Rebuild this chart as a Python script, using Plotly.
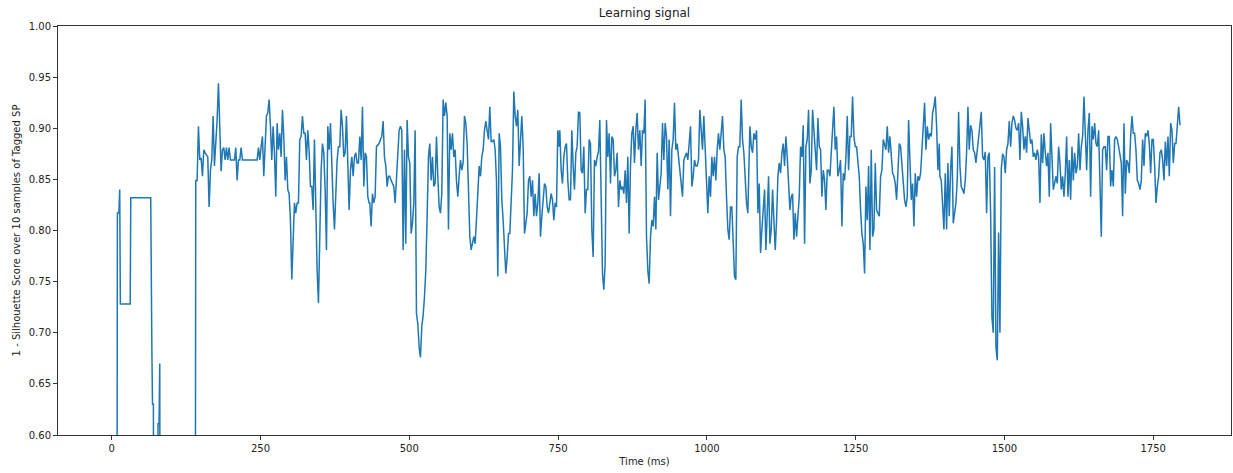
import numpy as np
import plotly.graph_objects as go

# Early part (ms, score); values below the visible range shown as 0.0
EARLY_T = [0, 8, 9.5, 12, 13.4, 14.5, 31, 32, 65.5, 66.5, 67.5, 68.5, 70, 72, 77, 77.8, 79.5, 80.7, 82, 139.5]
EARLY_V = [0.0, 0.0, 0.817, 0.817, 0.840, 0.728, 0.728, 0.832, 0.832, 0.680, 0.680, 0.630, 0.630, 0.0,
           0.0, 0.611, 0.611, 0.670, 0.0, 0.0]

# Segments sampled uniformly between (start, end) ms
SEG_A_SPAN = (141.2, 432.5)
SEG_A = [0.849, 0.849, 0.902, 0.869, 0.871, 0.853, 0.879, 0.876, 0.874, 0.872,
         0.823, 0.859, 0.869, 0.912, 0.863, 0.882, 0.908, 0.944, 0.898, 0.858,
         0.879, 0.881, 0.869, 0.881, 0.869, 0.881, 0.869, 0.869, 0.869, 0.869,
         0.881, 0.849, 0.869, 0.869, 0.881, 0.869, 0.869, 0.869, 0.869, 0.869,
         0.869, 0.869, 0.869, 0.869, 0.869, 0.869, 0.869, 0.881, 0.869, 0.882,
         0.892, 0.853, 0.892, 0.912, 0.915, 0.928, 0.902, 0.869, 0.902, 0.876,
         0.833, 0.905, 0.879, 0.895, 0.872, 0.918, 0.892, 0.849, 0.872, 0.840,
         0.836, 0.810, 0.752, 0.787, 0.827, 0.817, 0.827, 0.827, 0.889, 0.892,
         0.912, 0.895, 0.895, 0.869, 0.898, 0.879, 0.843, 0.843, 0.820, 0.889,
         0.817, 0.761, 0.729, 0.794, 0.859, 0.885, 0.876, 0.840, 0.781, 0.902,
         0.879, 0.905, 0.859, 0.827, 0.801, 0.833, 0.869, 0.882, 0.882, 0.918,
         0.902, 0.872, 0.876, 0.912, 0.866, 0.820, 0.859, 0.872, 0.853, 0.872,
         0.876, 0.866, 0.866, 0.892, 0.869, 0.921, 0.843, 0.876, 0.872, 0.833,
         0.827]

SEG_B_SPAN = (433.6, 751.8)
SEG_B = [0.827, 0.804, 0.836, 0.827, 0.833, 0.882, 0.884, 0.885, 0.889, 0.892,
         0.907, 0.872, 0.863, 0.843, 0.853, 0.853, 0.849, 0.846, 0.843, 0.827,
         0.853, 0.885, 0.898, 0.902, 0.898, 0.781, 0.879, 0.787, 0.908, 0.872,
         0.866, 0.797, 0.807, 0.827, 0.898, 0.719, 0.709, 0.686, 0.676, 0.706,
         0.717, 0.735, 0.761, 0.814, 0.872, 0.885, 0.849, 0.872, 0.843, 0.846,
         0.892, 0.853, 0.823, 0.817, 0.836, 0.928, 0.912, 0.925, 0.912, 0.801,
         0.895, 0.879, 0.895, 0.872, 0.879, 0.849, 0.833, 0.853, 0.869, 0.859,
         0.866, 0.912, 0.905, 0.885, 0.849, 0.794, 0.781, 0.787, 0.794, 0.787,
         0.820, 0.836, 0.863, 0.853, 0.872, 0.879, 0.898, 0.907, 0.898, 0.889,
         0.921, 0.887, 0.887, 0.889, 0.879, 0.849, 0.755, 0.895, 0.882, 0.830,
         0.810, 0.781, 0.758, 0.774, 0.797, 0.797, 0.827, 0.859, 0.936, 0.912,
         0.902, 0.918, 0.863, 0.889, 0.912, 0.882, 0.797, 0.807, 0.817, 0.849,
         0.853, 0.833, 0.849, 0.814, 0.836, 0.814, 0.827, 0.856, 0.794, 0.814,
         0.827, 0.846, 0.843, 0.823, 0.817, 0.827, 0.836, 0.830, 0.810, 0.827,
         0.823, 0.898, 0.882]

SEG_C_SPAN = (752.9, 1071.1)
SEG_C = [0.898, 0.859, 0.846, 0.872, 0.882, 0.885, 0.849, 0.830, 0.830, 0.898,
         0.863, 0.840, 0.876, 0.882, 0.916, 0.915, 0.859, 0.856, 0.882, 0.817,
         0.840, 0.840, 0.889, 0.885, 0.801, 0.774, 0.869, 0.863, 0.872, 0.877,
         0.908, 0.830, 0.758, 0.742, 0.768, 0.908, 0.872, 0.895, 0.846, 0.892,
         0.889, 0.853, 0.859, 0.876, 0.823, 0.849, 0.840, 0.843, 0.836, 0.859,
         0.827, 0.872, 0.797, 0.863, 0.895, 0.902, 0.866, 0.898, 0.915, 0.879,
         0.898, 0.863, 0.898, 0.895, 0.928, 0.794, 0.761, 0.748, 0.794, 0.810,
         0.804, 0.833, 0.801, 0.876, 0.830, 0.843, 0.856, 0.905, 0.869, 0.905,
         0.892, 0.840, 0.889, 0.814, 0.879, 0.889, 0.925, 0.879, 0.885, 0.872,
         0.859, 0.849, 0.833, 0.869, 0.872, 0.876, 0.869, 0.889, 0.902, 0.843,
         0.853, 0.869, 0.863, 0.863, 0.869, 0.918, 0.895, 0.879, 0.912, 0.879,
         0.859, 0.817, 0.853, 0.833, 0.872, 0.853, 0.872, 0.849, 0.879, 0.895,
         0.879, 0.892, 0.912, 0.879, 0.872, 0.833, 0.801, 0.791, 0.823, 0.823,
         0.794, 0.755, 0.752, 0.872, 0.882, 0.882, 0.928, 0.889, 0.876, 0.853,
         0.827, 0.817, 0.879]

SEG_D_SPAN = (1072.3, 1390.5)
SEG_D = [0.902, 0.882, 0.876, 0.895, 0.889, 0.898, 0.817, 0.846, 0.778, 0.801,
         0.817, 0.840, 0.781, 0.820, 0.853, 0.787, 0.801, 0.840, 0.804, 0.781,
         0.810, 0.853, 0.866, 0.856, 0.876, 0.885, 0.863, 0.892, 0.872, 0.849,
         0.820, 0.833, 0.836, 0.791, 0.817, 0.794, 0.820, 0.833, 0.882, 0.872,
         0.903, 0.787, 0.882, 0.889, 0.918, 0.846, 0.859, 0.918, 0.898, 0.879,
         0.859, 0.910, 0.882, 0.879, 0.833, 0.859, 0.849, 0.820, 0.859, 0.859,
         0.853, 0.876, 0.898, 0.921, 0.879, 0.892, 0.853, 0.859, 0.869, 0.804,
         0.856, 0.849, 0.872, 0.912, 0.859, 0.892, 0.892, 0.931, 0.892, 0.882,
         0.882, 0.869, 0.853, 0.820, 0.797, 0.787, 0.758, 0.843, 0.810, 0.863,
         0.781, 0.879, 0.794, 0.801, 0.866, 0.820, 0.817, 0.814, 0.853, 0.859,
         0.889, 0.885, 0.879, 0.902, 0.876, 0.892, 0.872, 0.856, 0.853, 0.846,
         0.830, 0.866, 0.885, 0.882, 0.866, 0.853, 0.830, 0.823, 0.833, 0.908,
         0.859, 0.830, 0.846, 0.804, 0.856, 0.833, 0.853, 0.849, 0.856, 0.879,
         0.902, 0.925, 0.879, 0.902, 0.889, 0.895, 0.892, 0.915, 0.921, 0.931,
         0.902, 0.859, 0.885]

SEG_E_SPAN = (1391.6, 1658.3)
SEG_E = [0.853, 0.849, 0.817, 0.801, 0.856, 0.801, 0.866, 0.814, 0.859, 0.882,
         0.807, 0.820, 0.827, 0.849, 0.916, 0.863, 0.843, 0.840, 0.836, 0.849,
         0.876, 0.921, 0.879, 0.903, 0.898, 0.879, 0.876, 0.866, 0.879, 0.895,
         0.902, 0.916, 0.872, 0.869, 0.877, 0.817, 0.872, 0.876, 0.817, 0.715,
         0.700, 0.862, 0.686, 0.673, 0.798, 0.700, 0.860, 0.875, 0.872, 0.856,
         0.879, 0.885, 0.907, 0.882, 0.905, 0.912, 0.908, 0.900, 0.898, 0.905,
         0.869, 0.916, 0.902, 0.879, 0.892, 0.876, 0.910, 0.895, 0.885, 0.889,
         0.872, 0.876, 0.869, 0.879, 0.872, 0.827, 0.894, 0.866, 0.895, 0.876,
         0.863, 0.876, 0.833, 0.905, 0.866, 0.840, 0.846, 0.853, 0.846, 0.882,
         0.866, 0.840, 0.853, 0.833, 0.856, 0.892, 0.833, 0.869, 0.830, 0.882,
         0.849, 0.876, 0.856, 0.863, 0.895, 0.859, 0.882, 0.892, 0.931, 0.892,
         0.859, 0.898, 0.915, 0.833, 0.902, 0.889, 0.905, 0.885, 0.882, 0.898]

SEG_F_SPAN = (1660.5, 1795.0)
SEG_F = [0.833, 0.794, 0.879, 0.882, 0.882, 0.859, 0.892, 0.892, 0.843, 0.859,
         0.843, 0.889, 0.892, 0.889, 0.882, 0.872, 0.866, 0.814, 0.905, 0.836,
         0.869, 0.866, 0.856, 0.892, 0.912, 0.895, 0.895, 0.879, 0.849, 0.846,
         0.840, 0.849, 0.889, 0.863, 0.895, 0.892, 0.898, 0.885, 0.856, 0.889,
         0.889, 0.863, 0.827, 0.843, 0.853, 0.876, 0.879, 0.869, 0.849, 0.887,
         0.863, 0.892, 0.853, 0.905, 0.898, 0.866, 0.885, 0.885, 0.910, 0.921,
         0.903]

SEGMENTS = [(SEG_A_SPAN, SEG_A), (SEG_B_SPAN, SEG_B), (SEG_C_SPAN, SEG_C),
            (SEG_D_SPAN, SEG_D), (SEG_E_SPAN, SEG_E), (SEG_F_SPAN, SEG_F)]

t_all = list(EARLY_T)
v_all = list(EARLY_V)
for (t0, t1), vals in SEGMENTS:
    t_all.extend(np.linspace(t0, t1, len(vals)).tolist())
    v_all.extend(vals)

X_TICKS = [0, 250, 500, 750, 1000, 1250, 1500, 1750]
Y_TICKS = [0.60, 0.65, 0.70, 0.75, 0.80, 0.85, 0.90, 0.95, 1.00]

fig = go.Figure()
fig.add_trace(go.Scatter(x=t_all, y=v_all, mode="lines",
                         line=dict(color="#1f77b4", width=1.5),
                         showlegend=False, hoverinfo="skip"))

font = dict(family="DejaVu Sans", size=10, color="#222222")
fig.update_layout(
    width=1233, height=473,
    margin=dict(l=58, r=2, t=26, b=38),
    paper_bgcolor="white", plot_bgcolor="white",
    font=font,
    title=dict(text="Learning signal", x=0.5227, xanchor="center",
               y=1 - 13 / 473, yanchor="middle", yref="container",
               font=dict(family="DejaVu Sans", size=12, color="#222222")),
)
axis_common = dict(showgrid=False, zeroline=False, showline=True, mirror=True,
                   linecolor="#333333", linewidth=1, ticks="outside", ticklen=4,
                   tickcolor="#333333", tickwidth=1, tickfont=font)
fig.update_xaxes(range=[-90.3, 1880.7], tickvals=X_TICKS,
                 ticktext=[str(v) for v in X_TICKS],
                 title=dict(text="Time (ms)", font=font, standoff=4), **axis_common)
fig.update_yaxes(range=[0.6, 1.0], tickvals=Y_TICKS,
                 ticktext=[f"{v:.2f}" for v in Y_TICKS],
                 title=dict(text="1 - Silhouette Score over 10 samples of Tagged SP",
                            font=font, standoff=6), **axis_common)

fig.write_html("out.html")
